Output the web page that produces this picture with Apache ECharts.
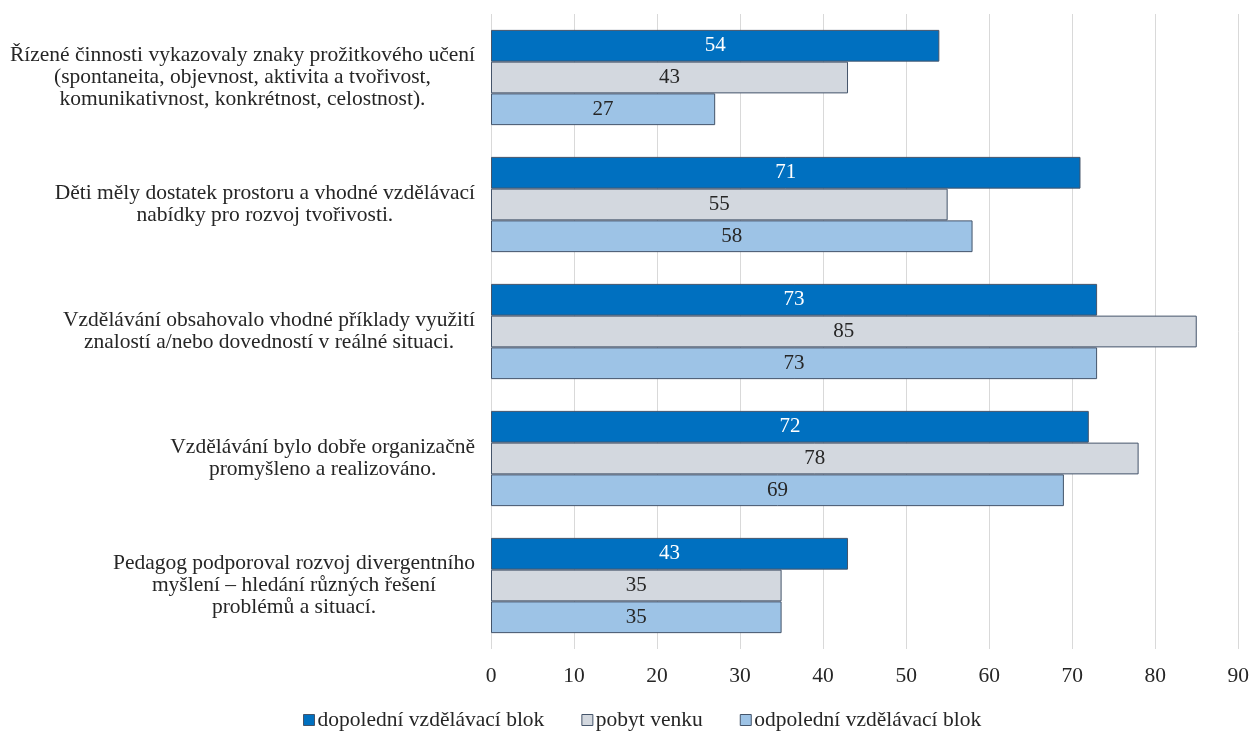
<!DOCTYPE html>
<html>
<head>
<meta charset="utf-8">
<script src="https://cdn.jsdelivr.net/npm/echarts@6/dist/echarts.min.js"></script>
<style>
  html, body { margin: 0; padding: 0; background: #fff; }
  #chart { width: 1252px; height: 734px; }
</style>
</head>
<body>
<div id="chart"></div>
<script>
// Statements evaluated (top to bottom), each split into the lines shown beside the bars
const categories = [
  ['Řízené činnosti vykazovaly znaky prožitkového učení', '(spontaneita, objevnost, aktivita a tvořivost,', 'komunikativnost, konkrétnost, celostnost).'],
  ['Děti měly dostatek prostoru a vhodné vzdělávací', 'nabídky pro rozvoj tvořivosti.'],
  ['Vzdělávání obsahovalo vhodné příklady využití', 'znalostí a/nebo dovedností v reálné situaci.'],
  ['Vzdělávání bylo dobře organizačně', 'promyšleno a realizováno.'],
  ['Pedagog podporoval rozvoj divergentního', 'myšlení – hledání různých řešení', 'problémů a situací.']
];

const seriesNames = ['dopolední vzdělávací blok', 'pobyt venku', 'odpolední vzdělávací blok'];

const dopoledni = [54, 71, 73, 72, 43];
const pobytVenku = [43, 55, 85, 78, 35];
const odpoledni = [27, 58, 73, 69, 35];

const xTicks = [0, 10, 20, 30, 40, 50, 60, 70, 80, 90];

const colors = ['#0070C0', '#D3D8DF', '#9DC3E6'];
const labelColors = ['#FFFFFF', '#262626', '#262626'];
const FONT = '"Liberation Serif", "Times New Roman", serif';
const FS = 21.5;

const values = [dopoledni, pobytVenku, odpoledni];

const chart = echarts.init(document.getElementById('chart'), null, { renderer: 'canvas' });

const series = values.map((data, i) => ({
  name: seriesNames[i],
  type: 'bar',
  data: data,
  barGap: '0%',
  barCategoryGap: '25%',
  itemStyle: {
    color: colors[i],
    borderColor: '#44546A',
    borderWidth: 1
  },
  label: {
    show: true,
    position: 'inside',
    color: labelColors[i],
    fontFamily: FONT,
    fontSize: 21
  },
  emphasis: { disabled: true },
  animation: false
}));

chart.setOption({
  animation: false,
  textStyle: { fontFamily: FONT },
  grid: { left: 491, right: 13, top: 14, bottom: 85, containLabel: false },
  xAxis: {
    type: 'value',
    min: xTicks[0],
    max: xTicks[xTicks.length - 1],
    interval: xTicks[1] - xTicks[0],
    axisLine: { show: false },
    axisTick: { show: false },
    splitLine: { show: true, lineStyle: { color: '#D9D9D9', width: 1 } },
    axisLabel: {
      color: '#262626',
      fontFamily: FONT,
      fontSize: FS,
      margin: 16
    }
  },
  yAxis: {
    type: 'category',
    inverse: true,
    data: categories.map(lines => lines.join('\n')),
    axisLine: { show: false },
    axisTick: { show: false },
    axisLabel: {
      margin: 16,
      color: '#262626',
      fontFamily: FONT,
      fontSize: FS,
      lineHeight: 22,
      formatter: function (value) {
        return value.split('\n').map(l => '{c|' + l + '}').join('\n');
      },
      rich: {
        c: {
          align: 'center',
          color: '#262626',
          fontFamily: FONT,
          fontSize: FS,
          lineHeight: 22
        }
      }
    }
  },
  legend: {
    top: 704,
    left: 298,
    itemWidth: 11,
    itemHeight: 11,
    itemGap: 37,
    icon: 'rect',
    textStyle: { color: '#262626', fontFamily: FONT, fontSize: FS, padding: [0, 0, 0, -2] },
    itemStyle: { borderColor: '#44546A', borderWidth: 1 },
    data: seriesNames
  },
  series: series
});
</script>
</body>
</html>
